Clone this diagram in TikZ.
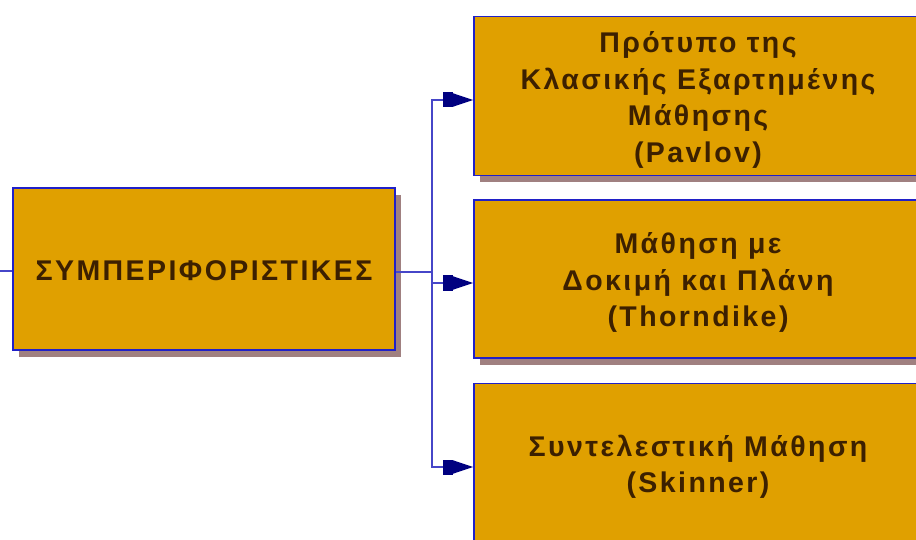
\documentclass[tikz,border=0pt]{standalone}
\usepackage{fontspec}
\setmainfont{Liberation Sans}
\newfontfamily\boxfont[LetterSpace=8.5]{Liberation Sans}
\usetikzlibrary{arrows.meta,shadows}
\definecolor{boxfill}{RGB}{224,160,0}
\definecolor{boxline}{RGB}{32,32,200}
\definecolor{conn}{RGB}{70,70,200}
\definecolor{tipc}{RGB}{0,0,128}
\definecolor{shadowc}{RGB}{160,128,128}
\definecolor{txt}{RGB}{60,32,0}
\newcommand\boxtext[1]{\raisebox{-4pt}[\height][\depth]{\begin{tabular}{@{}c@{}}#1\end{tabular}}}
\tikzset{
  box/.style={draw=boxline, line width=1.8pt, fill=boxfill, text=txt,
    font=\boxfont\fontsize{28.5}{36.5}\selectfont\bfseries,
    inner sep=0pt,
    general shadow={shadow xshift=6pt, shadow yshift=-7pt, fill=shadowc, opacity=1}},
  conline/.style={draw=conn, line width=1.6pt},
  arrowline/.style={conline, -{Rectangle[length=10pt,width=15pt,color=tipc]Triangle[length=20pt,width=13pt,color=tipc]}}
}
\begin{document}
\begin{tikzpicture}[x=1pt,y=-1pt]
\useasboundingbox (0,0) rectangle (916,540);
\clip (0,0) rectangle (916,540);
\node[box, minimum width=382pt, minimum height=162pt] (main) at (204,269) {\boxtext{ΣΥΜΠΕΡΙΦΟΡΙΣΤΙΚΕΣ}};
\node[box, minimum width=448pt, minimum height=159pt] (t1) at (698,96) {\boxtext{Πρότυπο της\\Κλασικής Εξαρτημένης\\Μάθησης\\(Pavlov)}};
\node[box, minimum width=448pt, minimum height=158pt] (t2) at (698,279) {\boxtext{Μάθηση με\\Δοκιμή και Πλάνη\\(Thorndike)}};
\node[box, minimum width=448pt, minimum height=159pt] (t3) at (698,463) {\boxtext{Συντελεστική Μάθηση\\(Skinner)}};
\coordinate (l) at (0,271);
\coordinate (j) at (432,272);
\draw[conline] (l) -- (l -| main.west);
\draw[conline] ([yshift=-3pt]main.east) -- (j);
\draw[arrowline] (j) |- ([yshift=-4pt]t1.west);
\draw[arrowline] (j) |- ([yshift=-4pt]t2.west);
\draw[arrowline] (j) |- ([yshift=-4pt]t3.west);
\end{tikzpicture}
\end{document}
